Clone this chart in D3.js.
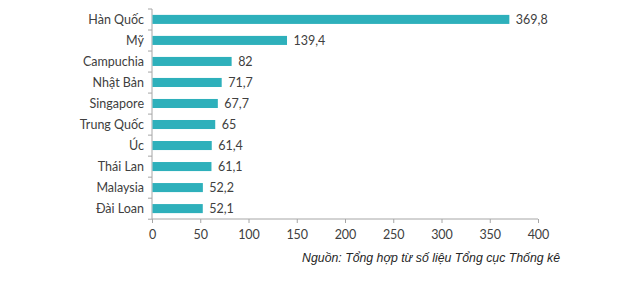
<!DOCTYPE html>
<html>
<head>
<meta charset="utf-8">
<script src="https://cdn.jsdelivr.net/npm/d3@7"></script>
<style>
  body { margin: 0; background: #fff; }
  text { font-family: Lato, "Open Sans", sans-serif; }
</style>
</head>
<body>
<div id="chart"></div>
<script>
const countries = ["Hàn Quốc", "Mỹ", "Campuchia", "Nhật Bản", "Singapore", "Trung Quốc", "Úc", "Thái Lan", "Malaysia", "Đài Loan"];
const values = [369.8, 139.4, 82, 71.7, 67.7, 65, 61.4, 61.1, 52.2, 52.1];
const labels = ["369,8", "139,4", "82", "71,7", "67,7", "65", "61,4", "61,1", "52,2", "52,1"];
const xTicks = [0, 50, 100, 150, 200, 250, 300, 350, 400];
const source = "Nguồn: Tổng hợp từ số liệu Tổng cục Thống kê";

const margin = {top: 9, right: 102, bottom: 70, left: 152},
    width = 640 - margin.left - margin.right,
    height = 289 - margin.top - margin.bottom;

const svg = d3.select("#chart")
    .append("svg")
    .attr("width", 640)
    .attr("height", 289)
    .append("g")
    .attr("transform", `translate(${margin.left}, ${margin.top})`);

const data = countries.map((c, i) => ({name: c, value: values[i], label: labels[i]}));

const x = d3.scaleLinear()
    .domain([0, 400])
    .range([0, width]);

const y = d3.scaleBand()
    .domain(countries)
    .range([0, height])
    .paddingInner(0.57)
    .paddingOuter(0.28);

// x axis
const xAxis = svg.append("g")
    .attr("transform", `translate(0, ${height})`)
    .call(d3.axisBottom(x).tickValues(xTicks).tickSize(4).tickFormat(d3.format("d")));
xAxis.selectAll("line").attr("stroke", "#a6a6a6");
xAxis.select(".domain").attr("stroke", "#a6a6a6").attr("d", `M0,0H${width}`);
xAxis.selectAll("text")
    .attr("dy", "1.05em")
    .style("font-size", "12.5px")
    .attr("fill", "#404040");

// y axis: ticks between categories
const yg = svg.append("g");
yg.append("line")
    .attr("x1", 0).attr("x2", 0)
    .attr("y1", 0).attr("y2", height)
    .attr("stroke", "#a6a6a6");
yg.selectAll(".sep")
    .data(d3.range(countries.length + 1))
    .enter()
    .append("line")
    .attr("class", "sep")
    .attr("x1", -4).attr("x2", 0)
    .attr("y1", i => i * y.step())
    .attr("y2", i => i * y.step())
    .attr("stroke", "#a6a6a6");

yg.selectAll(".cat")
    .data(data)
    .enter()
    .append("text")
    .attr("class", "cat")
    .attr("x", -8)
    .attr("y", d => y(d.name) + y.bandwidth() / 2)
    .attr("dy", "0.35em")
    .attr("text-anchor", "end")
    .style("font-size", "12.5px")
    .attr("fill", "#404040")
    .text(d => d.name);

svg.selectAll("rect")
    .data(data)
    .enter()
    .append("rect")
    .attr("x", 0.5)
    .attr("y", d => y(d.name))
    .attr("width", d => x(d.value))
    .attr("height", y.bandwidth())
    .style("fill", "#2eb0bb");

svg.selectAll(".val")
    .data(data)
    .enter()
    .append("text")
    .attr("class", "val")
    .attr("x", d => x(d.value) + 7)
    .attr("y", d => y(d.name) + y.bandwidth() / 2)
    .attr("dy", "0.35em")
    .style("font-size", "12.5px")
    .attr("fill", "#404040")
    .text(d => d.label);

// source note
svg.append("text")
    .attr("x", 408)
    .attr("y", height + 43)
    .attr("text-anchor", "end")
    .style("font-family", "'Liberation Sans', Arial, sans-serif")
    .style("font-style", "italic")
    .style("font-size", "12.3px")
    .attr("fill", "#262626")
    .text(source);
</script>
</body>
</html>
